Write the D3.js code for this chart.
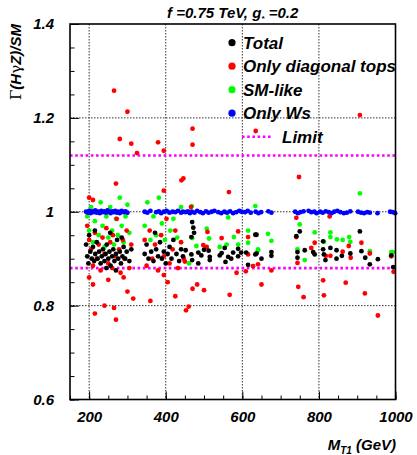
<!DOCTYPE html>
<html>
<head>
<meta charset="utf-8">
<script src="https://cdn.jsdelivr.net/npm/d3@7"></script>
<style>
  body { margin: 0; background: #fff; }
  svg text { font-family: "Liberation Sans", Arial, sans-serif; font-weight: bold; font-style: italic; fill: #000; }
</style>
</head>
<body>
<svg width="417" height="455"></svg>
<script>
// values: [M_T1 (GeV), ratio]
const totalPts = [
  [192,0.93],[195,0.905],[198,0.89],[200,0.95],[203,0.915],[207,0.9],[210,0.925],[213,0.895],[216,0.91],[220,0.935],
  [222,0.9],[226,0.915],[230,0.89],[233,0.905],[236,0.92],[240,0.895],[243,0.91],[246,0.93],[250,0.9],[253,0.915],
  [256,0.885],[260,0.905],[263,0.92],[266,0.895],[270,0.91],[273,0.94],[276,0.9],[280,0.915],[283,0.89],[287,0.905],
  [290,0.925],[294,0.9],[298,0.915],[305,0.895],[310,0.92],[215,0.96],[255,0.955],[285,0.945],[270,0.875],[245,0.88],
  [345,0.91],[350,0.93],[355,0.9],[362,0.915],[368,0.895],[375,0.92],[380,0.905],[385,0.935],[390,0.9],[395,0.915],
  [400,0.89],[405,0.91],[410,0.925],[415,0.9],[420,0.94],[428,0.91],[435,0.895],[440,0.92],[445,0.905],[372,0.955],
  [469,0.978],[472,0.966],[474,0.955],[467,0.946],[500,0.919],[554,0.923],[589,0.921],[634,0.951],[452,0.918],[467,0.909],
  [485,0.913],[493,0.907],[512,0.917],[515,0.904],[541,0.907],[546,0.912],[563,0.904],[576,0.913],[589,0.905],[597,0.913],
  [610,0.913],[634,0.909],[469,0.897],[485,0.89],[515,0.897],[556,0.893],[571,0.9],[615,0.887],
  [750,0.958],[741,0.948],[637,0.951],[811,0.937],[637,0.911],[763,0.918],[785,0.914],[789,0.909],[811,0.92],[813,0.909],
  [676,0.914],[676,0.906],[650,0.9],[744,0.914],[744,0.902],[817,0.897],
  [907,0.958],[830,0.923],[846,0.918],[860,0.906],[846,0.9],[882,0.911],[911,0.916],[921,0.902],[933,0.888],[954,0.899],
  [989,0.907],[994,0.882]
];
const diagPts = [
  [195,0.97],[200,0.94],[205,0.92],[210,0.885],[215,0.955],[220,0.9],[225,0.93],[230,0.875],[235,0.945],[240,0.91],
  [245,0.965],[250,0.89],[255,0.935],[260,0.88],[262,0.95],[268,0.905],[272,0.985],[278,0.92],[282,0.87],[288,0.94],
  [292,0.9],[298,0.96],[305,0.88],[310,0.93],
  [345,0.94],[350,0.885],[358,0.96],[365,0.9],[372,0.93],[380,0.875],[388,0.95],[395,0.905],[402,0.985],[410,0.89],
  [418,0.92],[425,0.96],[432,0.88],[440,0.935],[447,0.9],
  [466,1.01],[509,0.957],[546,0.944],[589,0.958],[615,0.946],[498,0.929],[507,0.925],[615,0.909],[450,0.894],[585,0.87],
  [609,0.873],[628,0.884],[565,1.042],[441,1.067],
  [741,0.987],[741,0.946],[789,0.934],[780,0.923],[818,0.906],[744,0.891],[641,0.888],[676,0.875],[811,0.854],
  [828,0.99],[911,0.934],[878,0.927],[830,0.906],[862,0.915],[883,0.902],[933,0.911],[989,0.905],[995,0.872],
  [470,0.836],[482,0.845],[500,0.833],[567,0.823],[650,0.845],[746,0.84],[460,0.798],[453,0.79],[760,0.818],[813,0.822],
  [920,0.826],[954,0.779],[870,0.849],
  [470,1.177],[470,1.143],[635,1.172],[446,1.071],[748,1.074],[907,1.206],
  [265,1.258],[300,1.213],[280,1.155],[310,1.145],[325,1.125],[380,1.148],[395,1.13],[200,1.03],[210,1.025],[270,1.06],
  [395,1.045],[215,0.783],[240,0.8],[265,0.795],[270,0.77],[300,0.83],[315,0.815],[200,0.86],[210,0.845],[250,0.855],
  [290,0.86],[360,0.81],[395,0.865],[405,0.85],[425,0.82]
];
const smPts = [
  [195,0.99],[200,0.96],[205,1.01],[210,0.935],[215,0.98],[220,1.0],[225,0.95],[230,1.02],[235,0.97],[240,0.925],
  [245,0.99],[250,0.945],[255,1.01],[260,0.96],[265,0.93],[270,0.985],[275,0.95],[280,1.03],[285,0.97],[290,0.935],
  [295,0.99],[300,1.015],[305,0.955],
  [345,0.97],[352,1.02],[360,0.94],[368,0.99],[375,0.95],[382,1.03],[390,0.975],[398,0.94],[405,1.0],[412,0.96],
  [420,0.985],[430,0.945],[440,1.01],
  [563,0.988],[634,1.012],[507,0.964],[469,0.944],[513,0.943],[578,0.946],[615,0.96],[480,0.927],[541,0.925],[559,0.93],
  [589,0.93],[615,0.934],[641,0.92],[461,0.89],[468,1.012],
  [750,0.973],[789,0.956],[667,0.953],[676,0.938],[813,0.936],[641,0.918],[744,0.92],[763,0.897],
  [830,0.956],[830,0.946],[847,0.941],[862,0.94],[879,0.946],[882,0.936],[933,0.916],[989,0.914],[993,0.914],[907,1.039]
];
const wsPts = [
  [192,1.0],[197,0.998],[200,1.002],[204,0.997],[208,1.001],[212,0.999],[216,1.003],[220,0.998],[224,1.0],[228,0.997],
  [232,1.002],[236,0.999],[240,1.001],[244,0.998],[248,1.003],[252,1.0],[256,0.997],[260,1.001],[264,0.999],[268,1.002],
  [272,0.998],[276,1.0],[280,0.997],[285,1.002],[290,0.999],[295,1.001],[300,0.998],
  [345,1.0],[352,0.998],[360,1.002],[375,0.999],[382,1.001],[388,0.997],[395,1.0],[402,1.002],[410,0.998],[418,1.0],
  [425,0.999],[432,1.002],[440,0.998],[445,1.0],
  [452,0.999],[458,1.001],[463,0.997],[468,1.0],[475,0.998],[482,1.002],[490,0.999],[497,0.997],[505,1.001],[512,0.998],
  [520,1.0],[527,1.002],[537,0.999],[545,0.997],[553,1.0],[560,0.998],[568,1.001],[576,0.997],[584,0.999],[592,1.002],
  [598,1.0],[607,0.999],[614,1.002],[622,0.998],[635,1.0],[642,0.997],[649,0.999],[668,1.001],[676,0.998],
  [738,1.0],[745,0.997],[752,0.999],[760,1.001],[773,1.002],[780,0.999],[788,1.0],[794,0.997],[803,1.0],[810,0.998],
  [818,1.001],[826,0.999],[833,0.997],[840,1.0],[848,1.002],[856,0.999],[865,0.997],[873,0.998],[882,1.001],
  [902,1.0],[910,0.998],[918,0.997],[926,0.999],[933,0.998],[953,0.997],[986,1.0],[993,0.999],[999,0.997]
];
const limitValues = [1.12, 0.88];
const xTicks = [200, 400, 600, 800, 1000];
const xTickLabels = ["200", "400", "600", "800", "1000"];
const xMinorTicks = d3.range(150, 1001, 50);
const yTicks = [0.6, 0.8, 1, 1.2, 1.4];
const yTickLabels = ["0.6", "0.8", "1", "1.2", "1.4"];
const yMinorTicks = d3.range(0.6, 1.401, 0.05);
const legendLabels = ["Total", "Only diagonal tops", "SM-like", "Only Ws"];
const legendColors = ["#000000", "#ff0000", "#00ff00", "#0000ff"];

const svg = d3.select("svg");
const x = d3.scaleLinear().domain([150, 1000]).range([70, 395.5]);
const y = d3.scaleLinear().domain([0.6, 1.4]).range([399.5, 24]);

// dotted grid
const grid = svg.append("g").attr("stroke", "#333").attr("stroke-width", 1).attr("stroke-dasharray", "1.5,1.5");
grid.selectAll("line.gx").data(xTicks.slice(0, -1)).enter().append("line")
  .attr("x1", d => x(d)).attr("x2", d => x(d)).attr("y1", y(1.4)).attr("y2", y(0.6));
grid.selectAll("line.gy").data(yTicks.slice(1, -1)).enter().append("line")
  .attr("x1", x(150)).attr("x2", x(1000)).attr("y1", d => y(d)).attr("y2", d => y(d));

// limit lines
svg.append("g").selectAll("line").data(limitValues).enter().append("line")
  .attr("x1", x(150)).attr("x2", x(1000)).attr("y1", d => y(d)).attr("y2", d => y(d))
  .attr("stroke", "#ff00ff").attr("stroke-width", 2.6).attr("stroke-dasharray", "2.6,2.6");

// points
function drawPts(pts, color) {
  svg.append("g").selectAll("circle").data(pts).enter().append("circle")
    .attr("cx", d => x(d[0])).attr("cy", d => y(d[1])).attr("r", 2.4).attr("fill", color);
}
drawPts(smPts, legendColors[2]);
drawPts(diagPts, legendColors[1]);
drawPts(totalPts, legendColors[0]);
drawPts(wsPts, legendColors[3]);

// axes (ticks inside the frame)
svg.append("g").attr("transform", "translate(0,399.5)")
  .call(d3.axisBottom(x).tickValues(xTicks).tickSizeInner(-8).tickSizeOuter(0).tickPadding(12)
    .tickFormat((d, i) => xTickLabels[i]));
svg.append("g").attr("transform", "translate(0,399.5)")
  .call(d3.axisBottom(x).tickValues(xMinorTicks).tickSizeInner(-4).tickSizeOuter(0).tickFormat(""));
svg.append("g").attr("transform", "translate(70,0)")
  .call(d3.axisLeft(y).tickValues(yTicks).tickSizeInner(-9).tickSizeOuter(0).tickPadding(16)
    .tickFormat((d, i) => yTickLabels[i]));
svg.append("g").attr("transform", "translate(70,0)")
  .call(d3.axisLeft(y).tickValues(yMinorTicks).tickSizeInner(-4.5).tickSizeOuter(0).tickFormat(""));
svg.selectAll(".domain").remove();
svg.selectAll(".tick line").attr("stroke", "#000");
svg.selectAll(".tick text").attr("font-size", 15).attr("font-family", null);

// frame
svg.append("rect").attr("x", x(150)).attr("y", y(1.4))
  .attr("width", x(1000) - x(150)).attr("height", y(0.6) - y(1.4))
  .attr("fill", "none").attr("stroke", "#000").attr("stroke-width", 1.6);

// legend
const leg = svg.append("g");
legendLabels.forEach((lab, i) => {
  const ly = 42.7 + i * 23.5;
  leg.append("circle").attr("cx", 232).attr("cy", ly).attr("r", 3.6).attr("fill", legendColors[i]);
  leg.append("text").attr("x", 243).attr("y", ly + 6).attr("font-size", 17).text(lab);
});
const limY = 42.7 + 4 * 23.5;
leg.append("line").attr("x1", 242).attr("x2", 272).attr("y1", limY).attr("y2", limY)
  .attr("stroke", "#ff00ff").attr("stroke-width", 2.6).attr("stroke-dasharray", "2.6,2.6");
leg.append("text").attr("x", 282).attr("y", limY + 6).attr("font-size", 17).text("Limit");

// title
const title = svg.append("text").attr("x", 167).attr("y", 17.5).attr("font-size", 15);
title.append("tspan").text("f =0.75 TeV, g");
title.append("tspan").attr("font-size", 8).attr("dy", 3).text("*");
title.append("tspan").attr("dy", -3).text(" =0.2");

// axis titles
const xt = svg.append("text").attr("x", 396).attr("y", 450).attr("text-anchor", "end").attr("font-size", 15);
xt.append("tspan").text("M");
xt.append("tspan").attr("font-size", 10).attr("dy", 4).text("T1");
xt.append("tspan").attr("dy", -4).text(" (GeV)");

const yt = svg.append("text").attr("transform", "translate(21,24) rotate(-90)")
  .attr("text-anchor", "end").attr("font-size", 15);
yt.append("tspan").attr("font-weight", "normal").attr("font-style", "normal").attr("font-family", "DejaVu Serif").text("Γ");
yt.append("tspan").text("(H");
yt.append("tspan").attr("font-weight", "normal").attr("font-style", "normal").attr("font-family", "DejaVu Serif").text("γ");
yt.append("tspan").text("Z)/SM");
</script>
</body>
</html>
